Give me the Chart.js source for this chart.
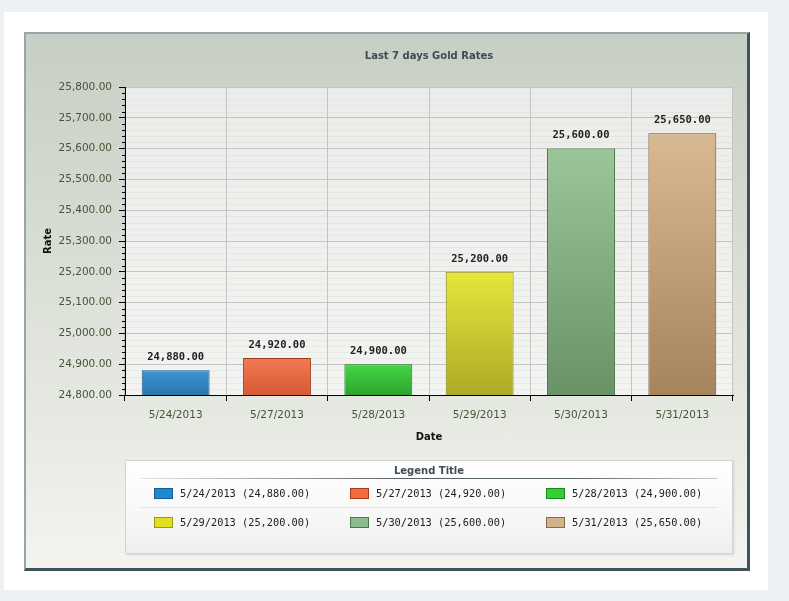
<!DOCTYPE html>
<html>
<head>
<meta charset="utf-8">
<script src="https://cdn.jsdelivr.net/npm/chart.js@4/dist/chart.umd.min.js"></script>
<style>
  html, body { margin:0; padding:0; width:789px; height:601px; overflow:hidden; background:#edf0f3; }
  #panel { position:absolute; left:4px; top:12px; width:764px; height:578px; background:#fff; }
  #frame { position:absolute; left:24px; top:32px; width:721px; height:534px;
           border-top:2px solid #97a6a8; border-left:2px solid #97a6a8;
           border-right:3px solid #3f535b; border-bottom:3px solid #3f535b;
           background:linear-gradient(#c7cec3, #dfe3db 55%, #f3f4ef); }
  #chart { position:absolute; left:0; top:0; }
  #legend { position:absolute; left:125px; top:460px; width:606px; height:92px;
            background:linear-gradient(#ffffff, #f7f7f7 60%, #eeeeee);
            border:1px solid #d2d4d4; box-shadow:1px 1px 2px rgba(0,0,0,.12);
            font-family:"DejaVu Sans Mono", monospace; font-size:10.3px; color:#222; }
  #legend .ttl { position:absolute; left:0; right:0; top:4px; text-align:center;
                 font:bold 10px "DejaVu Sans", sans-serif; color:#3d4d5a; }
  #legend .uline { position:absolute; left:14px; width:578px; top:17px; height:1px;
                   background:linear-gradient(to right, rgba(85,96,104,.15), #56626a 45%, #56626a 75%, rgba(85,96,104,.3)); }
  #legend .sep { position:absolute; left:14px; width:578px; top:46px; height:1px; background:#e6e6e6; }
  #legend .item { position:absolute; height:14px; line-height:14px; white-space:nowrap; }
  #legend .sw { display:inline-block; width:19px; height:11px; vertical-align:-2px; margin-right:7px; box-sizing:border-box; }
</style>
</head>
<body>
<div id="panel"></div>
<div id="frame"></div>
<canvas id="chart" width="789" height="601"></canvas>
<div id="legend"><div class="ttl">Legend Title</div><div class="uline"></div><div class="sep"></div></div>
<script>
const categories   = ['5/24/2013', '5/27/2013', '5/28/2013', '5/29/2013', '5/30/2013', '5/31/2013'];
const rates        = [24880, 24920, 24900, 25200, 25600, 25650];
const barTop       = ['#3c95d4', '#f27a52', '#46d646', '#e6e63c', '#9ac69a', '#d8ba92'];
const barBottom    = ['#2a76ad', '#d65835', '#2da42d', '#aeaa26', '#699367', '#a6845c'];
const barBorder    = ['#1d5d8c', '#9c3a20', '#1a781a', '#868610', '#3e683e', '#6a5030'];
const legendColors = ['#1e88d0', '#f46a40', '#32d032', '#e0e020', '#8fbc8f', '#d2b48c'];
const legendBorder = ['#1a5d8e', '#a83a1c', '#1c8a1c', '#9a9a10', '#4a7a4a', '#8a6a44'];
const yMin = 24800, yMax = 25800, yStep = 100, yMinorStep = 20;

const fmt = v => v.toLocaleString('en-US', { minimumFractionDigits:2, maximumFractionDigits:2 });
const tickColor = '#485438';

// legend
const legend = document.getElementById('legend');
categories.forEach((c, i) => {
  const d = document.createElement('div');
  d.className = 'item';
  d.style.left = (28 + (i % 3) * 196) + 'px';
  d.style.top  = (25 + Math.floor(i / 3) * 29) + 'px';
  d.innerHTML = `<span class="sw" style="background:${legendColors[i]};border:1px solid ${legendBorder[i]}"></span>${c} (${fmt(rates[i])})`;
  legend.appendChild(d);
});

const barFill = (ctx) => {
  const { chart, dataIndex } = ctx;
  const area = chart.chartArea;
  if (!area) return barTop[dataIndex];
  const y = chart.scales.y;
  const g = chart.ctx.createLinearGradient(0, y.getPixelForValue(rates[dataIndex]), 0, area.bottom);
  g.addColorStop(0, barTop[dataIndex]);
  g.addColorStop(1, barBottom[dataIndex]);
  return g;
};

const decor = {
  id: 'decor',
  beforeDraw(chart) {
    const { ctx, chartArea: a, scales: { y } } = chart;
    ctx.save();
    const g = ctx.createLinearGradient(0, a.top, 0, a.bottom);
    g.addColorStop(0, '#ecedea');
    g.addColorStop(1, '#f3f4f1');
    ctx.fillStyle = g;
    ctx.fillRect(a.left, a.top, a.right - a.left, a.bottom - a.top);
    ctx.strokeStyle = 'rgba(205,208,202,.28)';
    ctx.lineWidth = 1;
    for (let v = yMin; v < yMax; v += yMinorStep) {
      if ((v - yMin) % yStep === 0) continue;
      const py = Math.round(y.getPixelForValue(v)) + 0.5;
      ctx.beginPath(); ctx.moveTo(a.left, py); ctx.lineTo(a.right, py); ctx.stroke();
    }
    ctx.restore();
  },
  afterDatasetsDraw(chart) {
    const { ctx, scales: { x, y } } = chart;
    ctx.save();
    ctx.font = 'bold 10.5px "DejaVu Sans Mono", monospace';
    ctx.fillStyle = '#1e1e1e';
    ctx.textAlign = 'center';
    ctx.textBaseline = 'middle';
    rates.forEach((v, i) => {
      ctx.fillText(fmt(v), x.getPixelForValue(i), y.getPixelForValue(v) - 13);
    });
    ctx.restore();
  },
  afterDraw(chart) {
    const { ctx, chartArea: a, scales: { y } } = chart;
    ctx.save();
    ctx.strokeStyle = '#000';
    ctx.lineWidth = 1;
    for (let v = yMin; v < yMax; v += yMinorStep) {
      if ((v - yMin) % yStep === 0) continue;
      const py = Math.round(y.getPixelForValue(v)) + 0.5;
      ctx.beginPath(); ctx.moveTo(a.left - 3, py); ctx.lineTo(a.left, py); ctx.stroke();
    }
    const cx = (a.left + a.right) / 2;
    ctx.textAlign = 'center';
    ctx.textBaseline = 'middle';
    ctx.font = 'bold 10px "DejaVu Sans", sans-serif';
    ctx.fillStyle = '#3e4a56';
    ctx.fillText('Last 7 days Gold Rates', cx, a.top - 31);
    ctx.fillStyle = '#111';
    ctx.fillText('Date', cx, a.bottom + 42);
    ctx.translate(a.left - 77, (a.top + a.bottom) / 2);
    ctx.rotate(-Math.PI / 2);
    ctx.fillText('Rate', 0, 0);
    ctx.restore();
  }
};

new Chart(document.getElementById('chart'), {
  type: 'bar',
  data: {
    labels: categories,
    datasets: [{
      data: rates,
      backgroundColor: barFill,
      borderColor: barBorder,
      borderWidth: 1,
      borderSkipped: 'bottom',
      categoryPercentage: 1,
      barPercentage: 0.67
    }]
  },
  options: {
    responsive: false,
    animation: false,
    devicePixelRatio: 1,
    layout: { padding: { left: 0, top: 87, right: 56, bottom: 0 } },
    plugins: { legend: { display: false }, tooltip: { enabled: false } },
    scales: {
      x: {
        grid: { color: '#c4c4c4', tickColor: '#000', tickLength: 6, offset: true },
        border: { color: '#000', width: 1 },
        ticks: { color: tickColor, font: { family: 'DejaVu Sans', size: 10.5 }, padding: 8 },
        afterFit: s => { s.height = 206; }
      },
      y: {
        min: yMin, max: yMax,
        grid: { color: '#c4c4c4', tickColor: '#000', tickLength: 6 },
        border: { color: '#000', width: 1 },
        ticks: { stepSize: yStep, color: tickColor, font: { family: 'DejaVu Sans', size: 10.5 }, padding: 7,
                 callback: v => fmt(v) },
        afterFit: s => { s.width = 125; }
      }
    }
  },
  plugins: [decor]
});
</script>
</body>
</html>
